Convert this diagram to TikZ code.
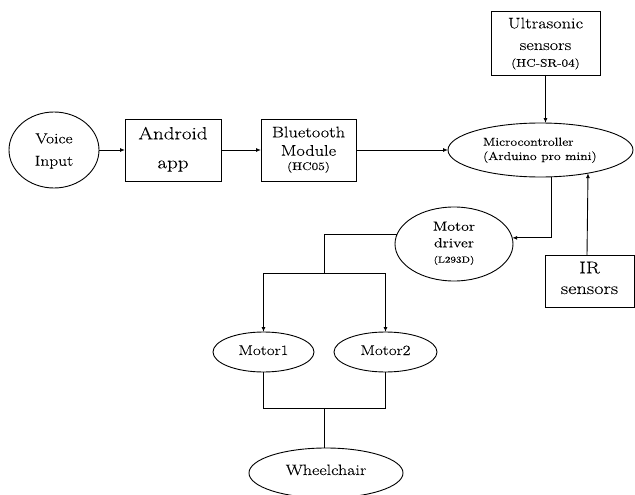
\documentclass[tikz,border=0pt]{standalone}
\usepackage{fontspec}
\setmainfont{Latin Modern Roman}[FakeStretch=1.2,FakeBold=0.12]
\usetikzlibrary{calc,arrows.meta,shapes.geometric}
\newcommand{\fs}[1]{\fontsize{#1}{#1}\selectfont}
\begin{document}
\begin{tikzpicture}[x=1pt,y=-1pt,
  every node/.style={inner sep=0pt,outer sep=0pt},
  box/.style={draw,line width=0.9pt,rectangle},
  oval/.style={draw,line width=0.9pt,ellipse},
  conn/.style={line width=0.9pt},
  arr/.style={conn,-{Latex[length=5pt,width=4pt]}},
  txt/.style={anchor=base}
]
\useasboundingbox (0,0) rectangle (635,495);

% shapes
\node[oval,minimum width=90pt,minimum height=76pt] (vi) at (54,150) {};
\node[box,minimum width=96pt,minimum height=62pt] (and) at (173,150) {};
\node[box,minimum width=95pt,minimum height=62pt] (bt) at (308.5,150) {};
\node[oval,minimum width=185pt,minimum height=54pt] (mc) at (540.5,150) {};
\node[box,minimum width=109pt,minimum height=64pt] (us) at (545.5,43) {};
\node[oval,minimum width=118pt,minimum height=74pt] (md) at (454,244) {};
\node[box,minimum width=89pt,minimum height=52pt] (ir) at (589.5,281) {};
\node[oval,minimum width=101pt,minimum height=40pt] (m1) at (263.5,352) {};
\node[oval,minimum width=103pt,minimum height=40pt] (m2) at (385.5,352) {};
\node[oval,minimum width=154pt,minimum height=50pt] (wc) at (326,473) {};

% texts
\node[txt,font=\fs{14.5}] (vi1) at (54,143.3) {Voice};
\node[txt,font=\fs{14.5}] (vi2) at (54,165.7) {Input};
\node[txt,font=\fs{17.5}] (and1) at (173,139.3) {Android};
\node[txt,font=\fs{17.5}] (and2) at (173,168.3) {app};
\node[txt,font=\fs{15.3}] (bt1) at (308.5,137.3) {Bluetooth};
\node[txt,font=\fs{15.3}] (bt2) at (308.5,155.7) {Module};
\node[txt,font=\fs{11}] (bt3) at (308.5,170) {(HC05)};
\node[anchor=base west,font=\fs{11.5}] (mc1) at (483,145.7) {Microcontroller};
\node[anchor=base west,font=\fs{11.5}] (mc2) at (483,160) {(Arduino pro mini)};
\node[txt,font=\fs{15.3}] (us1) at (545.5,28.3) {Ultrasonic};
\node[txt,font=\fs{15.3}] (us2) at (545.5,50) {sensors};
\node[txt,font=\fs{11}] (us3) at (545.5,66.7) {(HC-SR-04)};
\node[txt,font=\fs{13.3}] (md1) at (454,230.7) {Motor};
\node[txt,font=\fs{13.3}] (md2) at (454,247.3) {driver};
\node[txt,font=\fs{9}] (md3) at (454,262.7) {(L293D)};
\node[txt,font=\fs{17}] (ir1) at (589.5,273.3) {IR};
\node[txt,font=\fs{17}] (ir2) at (589.5,294) {sensors};
\node[txt,font=\fs{14.2}] (m1t) at (263.5,355) {Motor1};
\node[txt,font=\fs{14.2}] (m2t) at (385.5,355) {Motor2};
\node[txt,font=\fs{15}] (wct) at (326,475) {Wheelchair};

% junction points
\coordinate (j1) at (324.5,273);
\coordinate (j2) at (324.5,408);

% connectors
\draw[arr] (vi.east) -- (and.west);
\draw[arr] (and.east) -- (bt.west);
\draw[arr] (bt.east) -- (mc.west);
\draw[arr] (us.south) -- (us.south |- mc.north);
\draw[arr] ($(mc.south)+(10.5,0)$) |- (md.6);
\draw[arr] ($(ir.north)+(-2.5,0)$) -- (mc.-26.65);
\draw[conn] (md.170) -| (j1);
\draw[arr] (j1) -| (m1.north);
\draw[arr] (j1) -| (m2.north);
\draw[conn] (m1.south) |- (j2);
\draw[conn] (m2.south) |- (j2);
\draw[conn] (j2) -- (j2 |- wc.north);
\end{tikzpicture}
\end{document}
